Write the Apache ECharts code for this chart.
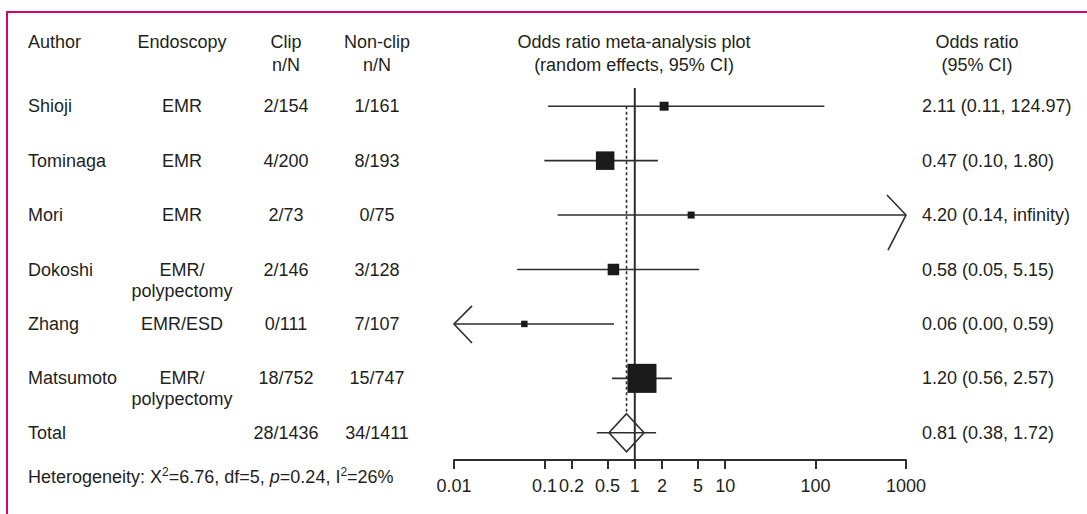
<!DOCTYPE html>
<html>
<head>
<meta charset="utf-8">
<script src="https://cdn.jsdelivr.net/npm/echarts@6/dist/echarts.min.js"></script>
<style>
html,body{margin:0;padding:0;background:#ffffff;}
#chart{width:1087px;height:514px;}
</style>
</head>
<body>
<div id="chart"></div>
<script>
// ---------------- data ----------------
const authors = ['Shioji', 'Tominaga', 'Mori', 'Dokoshi', 'Zhang', 'Matsumoto'];
const endoscopy = ['EMR', 'EMR', 'EMR', 'EMR/\npolypectomy', 'EMR/ESD', 'EMR/\npolypectomy'];
const clipCounts = ['2/154', '4/200', '2/73', '2/146', '0/111', '18/752'];
const nonClipCounts = ['1/161', '8/193', '0/75', '3/128', '7/107', '15/747'];
const oddsRatio = [2.11, 0.47, 4.20, 0.58, 0.06, 1.20];
const ciLower = [0.11, 0.10, 0.14, 0.05, 0.00, 0.56];
const ciUpper = [124.97, 1.80, Infinity, 5.15, 0.59, 2.57];
const weightPct = [5.4, 23.0, 3.3, 8.9, 2.8, 56.6]; // estimated study weights (square area)

const totalLabel = 'Total';
const totalClip = '28/1436';
const totalNonClip = '34/1411';
const totalOR = 0.81;
const totalLower = 0.38;
const totalUpper = 1.72;

const tickValues = [0.01, 0.1, 0.2, 0.5, 1, 2, 5, 10, 100, 1000];

const headers = ['Author', 'Endoscopy', 'Clip\nn/N', 'Non-clip\nn/N',
  'Odds ratio meta-analysis plot\n(random effects, 95% CI)', 'Odds ratio\n(95% CI)'];
const heterogeneity = { chi2: '6.76', df: '5', p: '0.24', i2: '26%' };

// ---------------- styling / layout ----------------
const FONT = "'Liberation Sans', Arial, Helvetica, sans-serif";
const TEXT = '#231f20';
const LINE = '#2e2e2e';
const FS = 18;
const COL = { author: 28, endo: 182, clip: 286, nonclip: 377, plot: 634, ci: 922, ciHead: 977 };

const tickLogs = tickValues.map(v => Math.log10(v));
const X_MIN = tickLogs[0];
const X_MAX = tickLogs[tickLogs.length - 1];
const clampX = v => Math.max(X_MIN, Math.min(X_MAX, v));
const fmt2 = v => (v === Infinity ? 'infinity' : v.toFixed(2));

const studyData = authors.map((a, i) => {
  const lo = Math.log10(ciLower[i]);
  const hi = Math.log10(ciUpper[i]);
  return [i, Math.log10(oddsRatio[i]), clampX(lo), clampX(hi), weightPct[i], lo < X_MIN ? 1 : 0, hi > X_MAX ? 1 : 0];
});
const totalRow = authors.length;
const totalData = [[totalRow, Math.log10(totalOR), Math.log10(totalLower), Math.log10(totalUpper)]];

const tableRows = authors.map((a, i) => ({
  row: i, author: a, endo: endoscopy[i], clip: clipCounts[i], nonclip: nonClipCounts[i],
  ci: fmt2(oddsRatio[i]) + ' (' + fmt2(ciLower[i]) + ', ' + fmt2(ciUpper[i]) + ')'
}));
tableRows.push({ row: totalRow, author: totalLabel, endo: '', clip: totalClip, nonclip: totalNonClip,
  ci: fmt2(totalOR) + ' (' + fmt2(totalLower) + ', ' + fmt2(totalUpper) + ')' });

function txt(x, y, text, align, lh) {
  return {
    type: 'text', x: x, y: y, silent: true,
    style: { text: text, fill: TEXT, fontSize: FS, fontFamily: FONT, align: align, verticalAlign: 'top', lineHeight: lh || 21 }
  };
}

function renderStudy(params, api) {
  const row = api.value(0);
  const p = api.coord([api.value(1), row]);
  const cy = p[1];
  const x0 = api.coord([api.value(2), row])[0];
  const x1 = api.coord([api.value(3), row])[0];
  const sz = 3.86 * Math.sqrt(api.value(4));
  const ls = { stroke: LINE, lineWidth: 1.6, fill: 'none' };
  const children = [
    { type: 'line', shape: { x1: x0, y1: cy, x2: x1, y2: cy }, style: ls },
    { type: 'rect', shape: { x: p[0] - sz / 2, y: cy - sz / 2, width: sz, height: sz }, style: { fill: '#1a1a1a' } }
  ];
  if (api.value(5)) {
    children.push({ type: 'polyline', shape: { points: [[x0 + 18, cy - 18], [x0, cy], [x0 + 18, cy + 19]] }, style: ls });
  }
  if (api.value(6)) {
    children.push({ type: 'polyline', shape: { points: [[x1 - 19, cy - 20], [x1, cy], [x1 - 18, cy + 35]] }, style: ls });
  }
  return { type: 'group', children: children };
}

function renderTotal(params, api) {
  const row = api.value(0);
  const c = api.coord([api.value(1), row]);
  const x0 = api.coord([api.value(2), row])[0];
  const x1 = api.coord([api.value(3), row])[0];
  const top0 = api.coord([api.value(1), 0])[1];
  const hw = 17.5, hh = 19;
  return {
    type: 'group', children: [
      { type: 'line', shape: { x1: c[0], y1: top0, x2: c[0], y2: c[1] - hh }, style: { stroke: LINE, lineWidth: 1.6, lineDash: [3, 2.5] } },
      { type: 'line', shape: { x1: x0, y1: c[1], x2: x1, y2: c[1] }, style: { stroke: LINE, lineWidth: 1.6 } },
      { type: 'polygon', shape: { points: [[c[0], c[1] - hh], [c[0] + hw, c[1]], [c[0], c[1] + hh], [c[0] - hw, c[1]]] },
        style: { fill: 'none', stroke: LINE, lineWidth: 1.6 } }
    ]
  };
}

function renderRefLine(params, api) {
  const top = api.coord([0, -0.5])[1] + 9;
  const bottom = api.coord([0, 6.5])[1];
  const x = api.coord([api.value(0), 0])[0];
  return { type: 'line', shape: { x1: x, y1: top, x2: x, y2: bottom }, style: { stroke: LINE, lineWidth: 2 } };
}

function renderTable(params, api) {
  const r = tableRows[params.dataIndex];
  const y = api.coord([0, api.value(0)])[1] - 10.5;
  return {
    type: 'group', children: [
      txt(COL.author, y, r.author, 'left'),
      txt(COL.endo, y, r.endo, 'center'),
      txt(COL.clip, y, r.clip, 'center'),
      txt(COL.nonclip, y, r.nonclip, 'center'),
      txt(COL.ci, y, r.ci, 'left')
    ]
  };
}

const chart = echarts.init(document.getElementById('chart'), null, { renderer: 'svg' });

const headerY = 31;
const headerX = [COL.author, COL.endo, COL.clip, COL.nonclip, COL.plot, COL.ciHead];
const headerAlign = ['left', 'center', 'center', 'center', 'center', 'center'];

const option = {
  backgroundColor: '#ffffff',
  animation: false,
  grid: { left: 454, right: 181, top: 79, bottom: 54, containLabel: false },
  xAxis: {
    type: 'value', min: X_MIN, max: X_MAX,
    axisLine: { show: true, onZero: false, lineStyle: { color: LINE, width: 2 } },
    axisTick: { show: true, customValues: tickLogs, length: 9, inside: false, lineStyle: { color: LINE, width: 2 } },
    axisLabel: {
      show: true, customValues: tickLogs, margin: 17, fontSize: FS, fontFamily: FONT, color: TEXT, hideOverlap: false,
      formatter: v => {
        const i = tickLogs.findIndex(t => Math.abs(t - v) < 1e-6);
        return i >= 0 ? String(tickValues[i]) : '';
      }
    },
    splitLine: { show: false }
  },
  yAxis: { type: 'value', min: -0.5, max: 6.5, inverse: true, show: false, splitLine: { show: false } },
  graphic: [
    { type: 'rect', shape: { x: 7, y: 12, width: 1200, height: 600 }, style: { fill: 'none', stroke: '#d6046e', lineWidth: 2 }, silent: true }
  ].concat(headers.map((h, i) => txt(headerX[i], headerY, h, headerAlign[i], 22.5))).concat([
    {
      type: 'text', x: COL.author, y: 477, silent: true,
      style: {
        text: '{n|Heterogeneity: X}{s|2}{n|=' + heterogeneity.chi2 + ', df=' + heterogeneity.df + ', }{i|p}{n|=' +
          heterogeneity.p + ', I}{s|2}{n|=' + heterogeneity.i2 + '}',
        fill: TEXT, fontSize: FS, fontFamily: FONT, align: 'left', verticalAlign: 'middle',
        rich: {
          n: { fontSize: FS, fontFamily: FONT, fill: TEXT, lineHeight: 22, verticalAlign: 'middle' },
          i: { fontSize: FS, fontFamily: FONT, fontStyle: 'italic', fill: TEXT, lineHeight: 22, verticalAlign: 'middle' },
          s: { fontSize: 12, fontFamily: FONT, fill: TEXT, lineHeight: 12, verticalAlign: 'top' }
        }
      }
    }
  ]),
  series: [
    { type: 'custom', name: 'ref', renderItem: renderRefLine, data: [[0, 0]], encode: { x: 0, y: 1 }, silent: true, z: 1 },
    { type: 'custom', name: 'total', renderItem: renderTotal, data: totalData, encode: { x: 1, y: 0 }, silent: true, z: 2 },
    { type: 'custom', name: 'studies', renderItem: renderStudy, data: studyData, encode: { x: 1, y: 0 }, silent: true, z: 3 },
    { type: 'custom', name: 'table', renderItem: renderTable, data: tableRows.map(r => [r.row, 0]), encode: { y: 0, x: 1 }, silent: true, z: 4 }
  ]
};
chart.setOption(option);
</script>
</body>
</html>
